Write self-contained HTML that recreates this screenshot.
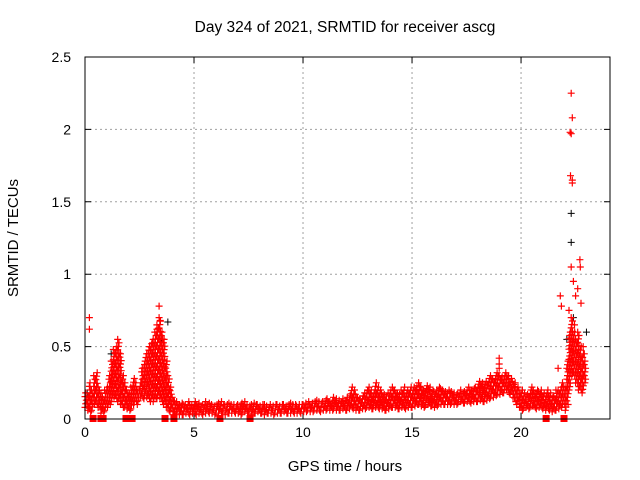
<!DOCTYPE html>
<html><head><meta charset="utf-8"><style>
body{margin:0;background:#fff}
svg{display:block;font-family:"Liberation Sans",sans-serif}
</style></head><body>
<svg id="chart" width="640" height="480" viewBox="0 0 640 480">
<rect width="640" height="480" fill="#fff"/>
<text x="345" y="32" font-size="15.5" text-anchor="middle">Day 324 of 2021, SRMTID for receiver ascg</text>
<text x="345" y="471" font-size="15" text-anchor="middle">GPS time / hours</text>
<text x="18" y="238" font-size="15" text-anchor="middle" transform="rotate(-90 18 238)">SRMTID / TECUs</text>
<g id="grid"></g><g id="ticks"></g><g id="marks"></g>
<rect x="85" y="57" width="525" height="362" fill="none" stroke="#000" stroke-width="1"/>
</svg>
<script>
const xTicks=[0,5,10,15,20];
const yTicks=[0,0.5,1,1.5,2,2.5];
const yTickLabels=["0","0.5","1","1.5","2","2.5"];
const startHour=0, stepHour=0.1;
const redHi=[.18,.16,.25,.2,.3,.32,.22,.18,.15,.2,
.22,.3,.4,.48,.5,.55,.45,.3,.25,.2,
.18,.22,.28,.25,.2,.25,.35,.4,.45,.5,
.52,.55,.6,.65,.7,.6,.55,.4,.3,.22,
.15,.12,.12,.1,.11,.1,.1,.12,.1,.1,
.12,.1,.11,.09,.1,.12,.1,.11,.1,.09,.1,.11,.12,.1,.09,.1,.11,.1,.1,.09,
.1,.1,.11,.12,.1,.09,.1,.11,.1,.1,.09,.1,.1,.09,.08,.1,.09,.1,.1,.09,
.1,.1,.09,.1,.11,.1,.1,.09,.1,.1,
.1,.11,.12,.1,.11,.12,.13,.12,.11,.12,.13,.14,.12,.13,.15,.14,.13,.12,.14,.13,
.15,.16,.22,.2,.17,.15,.14,.16,.18,.2,.22,.2,.18,.25,.22,.2,.18,.17,.16,.18,.2,.22,.2,.18,.17,.2,.22,.18,.2,.22,
.2,.22,.23,.25,.22,.2,.21,.23,.22,.2,.19,.2,.22,.21,.2,.19,.18,.2,.19,.18,
.17,.18,.2,.18,.19,.2,.22,.2,.21,.22,
.24,.26,.25,.24,.26,.28,.3,.28,.3,.32,
.3,.29,.3,.32,.3,.28,.26,.25,.22,.2,
.2,.18,.16,.17,.2,.22,.18,.2,.19,.2,
.18,.16,.2,.18,.15,.16,.2,.2,.22,.25,
.22,.4,.6,.7,.6,.55,.6,.5,.45,.4];
const redLo=[.08,.06,.05,.06,.1,.1,.08,.04,.05,.06,
.08,.1,.12,.15,.14,.12,.1,.08,.08,.07,
.06,.07,.1,.12,.1,.15,.15,.14,.15,.14,
.12,.12,.15,.14,.15,.12,.1,.08,.06,.05,
.03,.03,.04,.03,.03,.03,.04,.04,.03,.04,
.04,.03,.04,.04,.03,.04,.05,.04,.04,.03,.04,.04,.05,.04,.03,.04,.04,.04,.05,.04,
.04,.03,.04,.05,.04,.04,.03,.04,.04,.05,.04,.04,.03,.04,.04,.04,.03,.04,.04,.04,
.04,.05,.04,.04,.04,.05,.04,.04,.05,.04,
.05,.05,.06,.05,.05,.06,.06,.06,.05,.06,.06,.07,.06,.06,.07,.06,.06,.06,.07,.06,
.06,.07,.08,.07,.06,.06,.06,.07,.07,.08,.08,.07,.07,.08,.08,.07,.07,.06,.06,.07,.08,.08,.08,.07,.07,.08,.08,.07,.08,.08,
.08,.09,.1,.1,.09,.08,.09,.1,.09,.09,.08,.09,.1,.1,.1,.1,.1,.1,.11,.1,
.1,.11,.12,.11,.11,.12,.12,.11,.12,.12,
.12,.13,.12,.12,.13,.14,.15,.15,.16,.17,
.17,.18,.18,.2,.18,.17,.15,.12,.1,.08,
.06,.07,.08,.07,.08,.09,.08,.07,.08,.08,
.07,.06,.07,.06,.05,.06,.06,.07,.08,.1,
.06,.1,.2,.3,.3,.25,.2,.2,.18,.25];
const outT=[0.2,0.2,3.4,3.45,3.3,22.3,22.35,22.25,22.3,22.27,22.35,22.35,22.3,22.4,22.7,22.72,22.5,22.6,22.2,22.8,21.7,21.8,21.85,19.0,19.0,19.0,22.9,22.85,22.75,22.45];
const outV=[0.70,0.62,0.78,0.68,0.62,2.25,2.08,1.98,1.97,1.68,1.65,1.63,1.05,0.95,1.10,1.05,0.85,0.90,0.75,0.30,0.35,0.85,0.78,0.42,0.38,0.35,0.45,0.50,0.80,0.65];
const blackT=[22.3,22.3,3.8,22.4,23.0,22.1,3.5,1.2,0.1];
const blackV=[1.42,1.22,0.67,0.70,0.60,0.55,0.55,0.45,0.18];
const zeroT=[0.37,0.73,0.83,1.88,2.16,3.67,4.08,6.19,7.57,21.15,21.97];

const X0=85,X1=610,Y0=419,Y1=57,XMAX=24.08,YMAX=2.5;
const xs=t=>X0+t/XMAX*(X1-X0);
const ys=v=>Y0-v/YMAX*(Y0-Y1);
const NS="http://www.w3.org/2000/svg";
const grid=document.getElementById('grid'),ticks=document.getElementById('ticks'),marks=document.getElementById('marks');
function mk(tag,attrs,parent){const e=document.createElementNS(NS,tag);for(const k in attrs)e.setAttribute(k,attrs[k]);parent.appendChild(e);return e;}
xTicks.forEach(t=>{
 const x=xs(t);
 if(t>0){const g=mk('line',{x1:x,x2:x,y1:Y1,y2:Y0,stroke:'#a0a0a0','stroke-dasharray':'2,3'},grid);
 
 }
 const tk=mk('path',{d:`M${x},${Y0}v-6M${x},${Y1}v6`,stroke:'#000'},ticks);
 
 
 const l=mk('text',{x:x,y:Y0+18,'font-size':14,'text-anchor':'middle'},ticks);l.textContent=t;
 
 
});
yTicks.forEach((v,i)=>{
 const y=ys(v);
 if(v>0&&v<YMAX){const g=mk('line',{x1:X0,x2:X1,y1:y,y2:y,stroke:'#a0a0a0','stroke-dasharray':'2,3'},grid);
 
 }
 const tk=mk('path',{d:`M${X0},${y}h6M${X1},${y}h-6`,stroke:'#000'},ticks);
 
 
 const l=mk('text',{x:X0-14,y:y+5,'font-size':14,'text-anchor':'end'},ticks);l.textContent=yTickLabels[i];
 
 
});
let d='';
function plus(t,v){const x=xs(t),y=ys(v);d+=`M${(x-3.5).toFixed(1)},${y.toFixed(1)}h7M${x.toFixed(1)},${(y-3.5).toFixed(1)}v7`;}
redHi.forEach((hi,i)=>{
 const t=startHour+i*stepHour,lo=redLo[i];
 const n=Math.max(1,Math.round((hi-lo)*145/3.5));
 for(let k=0;k<=n;k++)plus(t+((k+i)%3)*0.03,lo+(hi-lo)*k/n);
});
outT.forEach((t,i)=>plus(t,outV[i]));
let db='';
blackT.forEach((t,i)=>{const x=xs(t),y=ys(blackV[i]);db+=`M${x-3.5},${y}h7M${x},${y-3.5}v7`;});
const pb=mk('path',{d:db,stroke:'#000','stroke-width':1,fill:'none'},marks);


const pr=mk('path',{d:d,stroke:'#f00','stroke-width':1.2,fill:'none'},marks);


zeroT.forEach(t=>{
 const r=mk('rect',{x:xs(t)-3.5,y:Y0-4,width:7,height:7,fill:'#f00'},marks);
 
 
});
</script>
</body></html>
